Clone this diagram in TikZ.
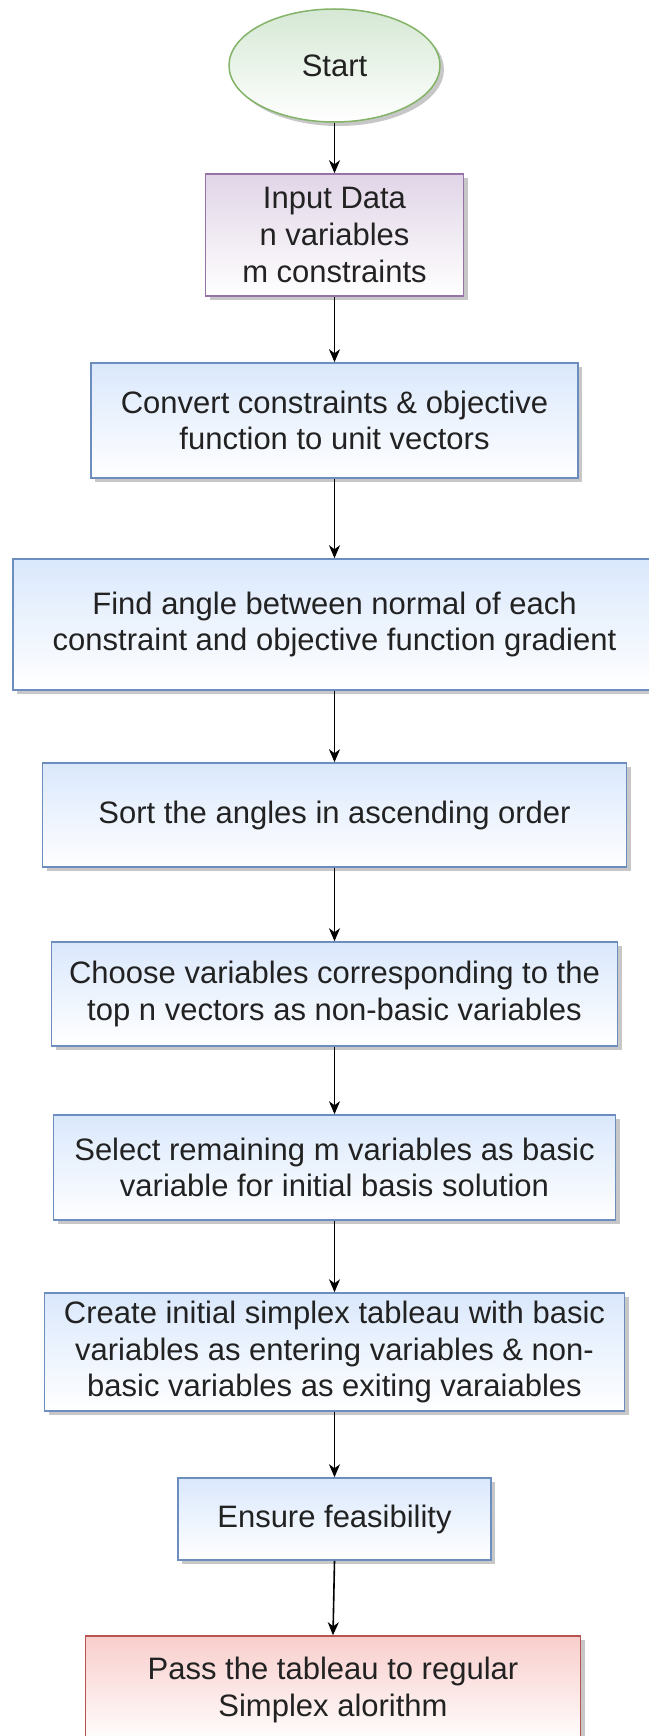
\documentclass[tikz,border=0pt]{standalone}
\usepackage{fontspec}
\setmainfont{Liberation Sans}
\usetikzlibrary{shapes.geometric,shadows,arrows.meta}
\definecolor{greenF}{HTML}{D5E8D4}
\definecolor{greenS}{HTML}{82B366}
\definecolor{purpF}{HTML}{E1D5E7}
\definecolor{purpS}{HTML}{9673A6}
\definecolor{blueF}{HTML}{DAE8FC}
\definecolor{blueS}{HTML}{6C8EBF}
\definecolor{redF}{HTML}{F8CECC}
\definecolor{redS}{HTML}{B85450}
\definecolor{txt}{HTML}{222222}
\tikzset{
  base/.style={line width=1.5pt, align=center, text=txt, inner sep=0pt,
    font=\fontsize{31}{36.8}\selectfont,
    drop shadow={shadow xshift=4pt, shadow yshift=-4pt, fill=black, opacity=0.22}},
  bluebox/.style={base, rectangle, draw=blueS, top color=blueF, bottom color=white},
  purpbox/.style={base, rectangle, draw=purpS, top color=purpF, bottom color=white},
  redbox/.style={base, rectangle, draw=redS, top color=redF, bottom color=white},
  startnode/.style={base, ellipse, draw=greenS, top color=greenF, bottom color=white},
  conn/.style={line width=1.6pt, -{Stealth[length=13pt,width=11pt,inset=4pt]}}
}
\begin{document}
\begin{tikzpicture}[x=1pt,y=-1pt]
\useasboundingbox (0,0) rectangle (648,1736);
\node[startnode, minimum width=211pt, minimum height=113pt] (start) at (334.5,65.5) {Start};
\node[purpbox, minimum width=258pt, minimum height=122pt] (input) at (334.5,235) {Input Data\\n variables\\m constraints};
\node[bluebox, minimum width=487pt, minimum height=115pt] (convert) at (334.5,420.5) {Convert constraints \& objective\\function to unit vectors};
\node[bluebox, minimum width=643pt, minimum height=131pt] (find) at (334.5,624.5) {Find angle between normal of each\\constraint and objective function gradient};
\node[bluebox, minimum width=584pt, minimum height=104pt] (sort) at (334.5,815) {Sort the angles in ascending order};
\node[bluebox, minimum width=566pt, minimum height=104pt] (choose) at (334.5,994) {Choose variables corresponding to the\\top n vectors as non-basic variables};
\node[bluebox, minimum width=562pt, minimum height=105pt] (select) at (334.5,1167.5) {Select remaining m variables as basic\\variable for initial basis solution};
\node[bluebox, minimum width=580pt, minimum height=118pt] (create) at (334.5,1352) {Create initial simplex tableau with basic\\variables as entering variables \& non-\\basic variables as exiting varaiables};
\node[bluebox, minimum width=313pt, minimum height=82pt] (ensure) at (334.5,1519) {Ensure feasibility};
\node[redbox, minimum width=495pt, minimum height=108pt] (pass) at (333,1690) {Pass the tableau to regular\\Simplex alorithm};
\draw[conn] (start) -- (input);
\draw[conn] (input) -- (convert);
\draw[conn] (convert) -- (find);
\draw[conn] (find) -- (sort);
\draw[conn] (sort) -- (choose);
\draw[conn] (choose) -- (select);
\draw[conn] (select) -- (create);
\draw[conn] (create) -- (ensure);
\draw[conn] (ensure.south) -- (pass.north);
\end{tikzpicture}
\end{document}
